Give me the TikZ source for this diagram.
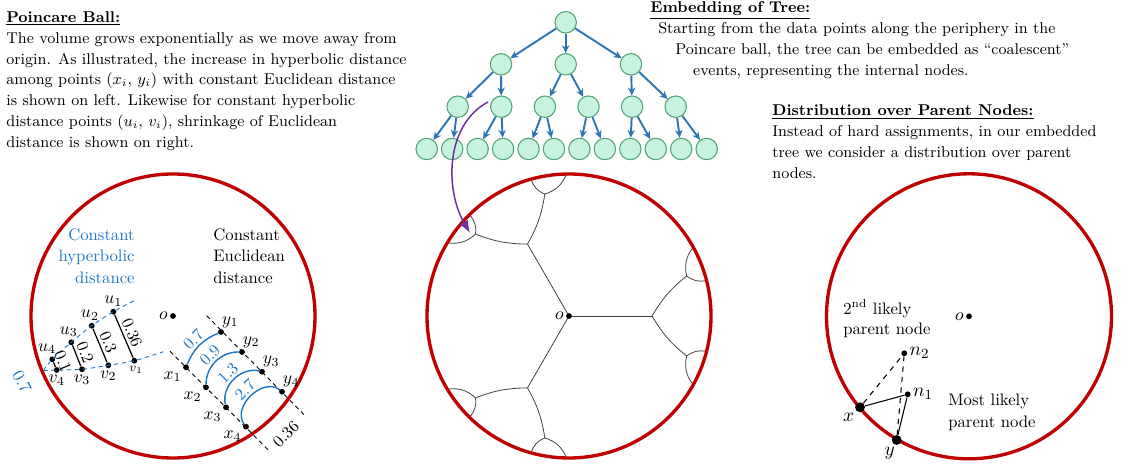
\documentclass[tikz,border=0pt]{standalone}
\usepackage{tikz}
\usetikzlibrary{positioning, arrows.meta, calc}

\definecolor{ballred}{RGB}{192,0,0}
\definecolor{hypblue}{RGB}{28,117,196}
\definecolor{treeblue}{RGB}{46,117,182}
\definecolor{nodefill}{RGB}{200,242,224}
\definecolor{nodeline}{RGB}{80,165,115}
\definecolor{embpurple}{RGB}{112,48,160}

\tikzset{
        ball/.style={draw=ballred, line width=1.9pt},
        dot/.style={circle, fill=black, inner sep=0pt, minimum size=3.3pt},
        bigdot/.style={circle, fill=black, inner sep=0pt, minimum size=5.6pt},
        treenode/.style={circle, draw=nodeline, fill=nodefill, line width=0.6pt, minimum size=12.2pt, inner sep=0pt},
        treearrow/.style={draw=treeblue, line width=1.1pt, -{Stealth[length=4.5pt,width=4.2pt]}},
        embarrow/.style={draw=embpurple, line width=0.85pt, -{Latex[length=7pt,width=5.5pt]}},
        geo/.style={black!75, line width=0.45pt},
        hypdash/.style={hypblue, dash pattern=on 2.5pt off 2pt, line width=0.5pt},
        eucdash/.style={black, dash pattern=on 2.5pt off 2pt, line width=0.5pt},
        hyparc/.style={hypblue, line width=0.8pt},
        body/.style={inner sep=0pt, font=\fontsize{8.9}{11.9}\selectfont, align=left},
        lbl/.style={inner sep=1pt, font=\fontsize{10}{11}\selectfont},
        dlabel/.style={midway, sloped, above, inner sep=1.5pt, font=\fontsize{9.5}{11}\selectfont},
        hlabel/.style={midway, sloped, above, inner sep=1pt, text=hypblue, font=\fontsize{9.5}{11}\selectfont},
}

\begin{document}
\begin{tikzpicture}[x=0.02cm, y=0.02cm]
        \useasboundingbox (0,0) rectangle (1136,-465);

        % TEXT BLOCKS
        \node[body, anchor=north west] (pbtext) at (6,-11) {\underline{\textbf{Poincare Ball:}}\\
                The volume grows exponentially as we move away from\\
                origin. As illustrated, the increase in hyperbolic distance\\
                among points ($x_i$, $y_i$) with constant Euclidean distance\\
                is shown on left. Likewise for constant hyperbolic\\
                distance points ($u_i$, $v_i$), shrinkage of Euclidean\\
                distance is shown on right.};
        \node[body, anchor=north west] (embtext) at (650,-1) {\underline{\textbf{Embedding of Tree:}}\\
                \hspace*{4.5pt}Starting from the data points along the periphery in the\\
                \hspace*{14.2pt}Poincare ball, the tree can be embedded as ``coalescent''\\
                \hspace*{24.4pt}events, representing the internal nodes.};
        \node[body, anchor=north west] (disttext) at (772,-104.5) {\underline{\textbf{Distribution over Parent Nodes:}}\\
                Instead of hard assignments, in our embedded\\
                tree we consider a distribution over parent\\
                nodes.};

        % TREE
        \node[treenode] (r) at (565.7,-22.3) {};
        \foreach \i/\x in {1/501,2/565.7,3/631}
                \node[treenode] (p\i) at (\x,-64.3) {};
        \foreach \i in {1,...,6}
                \node[treenode] (q\i) at ({457.7+43.6*(\i-1)},-106.7) {};
        \foreach \i in {1,...,12}
                \node[treenode] (l\i) at ({426.7+25.45*(\i-1)},-149) {};
        \foreach \i in {1,2,3}
                \draw[treearrow] (r) -- (p\i);
        \foreach \c [evaluate=\c as \p using {int((\c+1)/2)}] in {1,...,6}
                \draw[treearrow] (p\p) -- (q\c);
        \foreach \c [evaluate=\c as \p using {int((\c+1)/2)}] in {1,...,12}
                \draw[treearrow] (q\p) -- (l\c);

        % LEFT BALL
        \coordinate (lo) at (173,-316);
        \draw[ball] (lo) circle (142);
        \node[dot, label={[lbl]left:$o$}] (lodot) at (lo) {};
        \node[body, anchor=north east, text=hypblue, align=right, font=\fontsize{9.5}{12.3}\selectfont] (hyptxt) at (135,-228) {Constant\\hyperbolic\\distance};
        \node[body, anchor=north west, font=\fontsize{9.5}{12.3}\selectfont] (euctxt) at (213,-228) {Constant\\Euclidean\\distance};

        \node[dot, label={[lbl]above:$u_1$}] (u1) at (113.3,-311.7) {};
        \node[dot, label={[lbl, xshift=-1pt]above:$u_2$}] (u2) at (91.7,-325.7) {};
        \node[dot, label={[lbl, xshift=-1.5pt]above:$u_3$}] (u3) at (71.3,-342.3) {};
        \node[dot, label={[lbl, xshift=-3pt]above:$u_4$}] (u4) at (52.3,-359.3) {};
        \node[dot, label={[lbl, font=\scriptsize, xshift=1pt]below:$v_1$}] (v1) at (134.3,-360.7) {};
        \node[dot, label={[lbl]below:$v_2$}] (v2) at (108.3,-365.3) {};
        \node[dot, label={[lbl]below:$v_3$}] (v3) at (82,-369.3) {};
        \node[dot, label={[lbl]below:$v_4$}] (v4) at (56.7,-370) {};
        \coordinate (lbnd) at (43.3,-370.7);
        \coordinate (uend) at (136.7,-299.3);
        \coordinate (vend) at (163.3,-351.7);
        \draw[hypdash] plot[smooth] coordinates {(lbnd) (u4) (u3) (u2) (u1) (uend)};
        \draw[hypdash] plot[smooth] coordinates {(lbnd) (v4) (v3) (v2) (v1) (vend)};
        \draw[line width=0.7pt] (u1) -- node[dlabel] {0.36} (v1);
        \draw[line width=0.7pt] (u2) -- node[dlabel] {0.3} (v2);
        \draw[line width=0.7pt] (u3) -- node[dlabel] {0.2} (v3);
        \draw[line width=0.7pt] (u4) -- node[dlabel] {0.1} (v4);
        \node[lbl, text=hypblue, rotate=-62] (hypval) at (22,-382) {0.7};

        \node[dot, label={[lbl]below left:$x_1$}] (x1) at (186,-367.3) {};
        \node[dot, label={[lbl]below left:$x_2$}] (x2) at (206,-387.3) {};
        \node[dot, label={[lbl]below left:$x_3$}] (x3) at (226,-407.3) {};
        \node[dot, label={[lbl]below left:$x_4$}] (x4) at (246,-426.7) {};
        \node[dot, label={[lbl, xshift=-2pt]above right:$y_1$}] (y1) at (221,-332) {};
        \node[dot, label={[lbl, xshift=-2pt]above right:$y_2$}] (y2) at (242,-352) {};
        \node[dot, label={[lbl, xshift=-2pt]above right:$y_3$}] (y3) at (262,-371.7) {};
        \node[dot, label={[lbl, xshift=-2pt]above right:$y_4$}] (y4) at (282,-391.7) {};
        \coordinate (xa) at (170,-351.3);
        \coordinate (xb) at (270,-451.7);
        \coordinate (ya) at (206.7,-315.7);
        \coordinate (yb) at (306,-416.7);
        \draw[eucdash] (xa) -- (xb);
        \draw[eucdash] (ya) -- (yb);
        \node[lbl, rotate=45, font=\fontsize{9.5}{11}\selectfont] (eucval) at (286,-434) {0.36};
        \draw[hyparc] (x1) to[bend left=22] node[hlabel] {0.7} (y1);
        \draw[hyparc] (x2) to[bend left=45] node[hlabel] {0.9} (y2);
        \draw[hyparc] (x3) to[bend left=58] node[hlabel] {1.3} (y3);
        \draw[hyparc] (x4) to[bend left=82, looseness=1.1] node[hlabel] {2.7} (y4);

        % MIDDLE BALL (embedded tree)
        \coordinate (mo) at (569,-316);
        \begin{scope}[shift={(mo)}]
                \foreach \a in {0,120,240} {
                        \begin{scope}[rotate=\a]
                                \draw[geo] (0,0) -- (83,0);
                                \draw[geo] (83,0) to[bend left=10] (18.8:124.3);
                                \draw[geo] (83,0) to[bend right=10] (-18.8:124.3);
                                \draw[geo] (18.8:124.3) to[bend left=25] (29:142);
                                \draw[geo] (18.8:124.3) to[bend right=25] (14.5:142);
                                \draw[geo] (-18.8:124.3) to[bend right=25] (-29:142);
                                \draw[geo] (-18.8:124.3) to[bend left=25] (-14.5:142);
                        \end{scope}
                }
        \end{scope}
        \draw[ball] (mo) circle (142);
        \node[dot, label={[lbl]left:$o$}] (modot) at (mo) {};

        % EMBEDDING ARROW
        \coordinate (embstart) at (488,-102);
        \coordinate (embend) at (470,-233);
        \draw[embarrow] (embstart) .. controls (445,-125) and (445,-190) .. (embend);

        % RIGHT BALL
        \coordinate (ro) at (969,-316.3);
        \draw[ball] (ro) circle (142.5);
        \node[dot, label={[lbl]left:$o$}] (rodot) at (ro) {};
        \node[body, anchor=north west, font=\fontsize{9.5}{11.3}\selectfont] (second) at (843,-299) {2\textsuperscript{nd} likely\\parent node};
        \node[body, anchor=north west, font=\fontsize{9.5}{12}\selectfont] (most) at (948,-394) {Most likely\\parent node};
        \node[dot, label={[lbl, font=\fontsize{11}{12}\selectfont]right:$n_2$}] (n2) at (904.3,-353.3) {};
        \node[dot, label={[lbl, font=\fontsize{11}{12}\selectfont]right:$n_1$}] (n1) at (907.7,-394.3) {};
        \node[bigdot, label={[lbl, font=\fontsize{11}{12}\selectfont]below left:$x$}] (xp) at (860,-407.3) {};
        \node[bigdot, label={[lbl, font=\fontsize{11}{12}\selectfont, xshift=-4pt]below:$y$}] (yp) at (896.7,-440) {};
        \draw[line width=0.6pt] (xp) -- (n1);
        \draw[line width=0.6pt] (n1) -- (yp);
        \draw[line width=0.6pt, dashed] (xp) -- (n2);
        \draw[line width=0.6pt, dashed] (yp) -- (n2);

\end{tikzpicture}
\end{document}
